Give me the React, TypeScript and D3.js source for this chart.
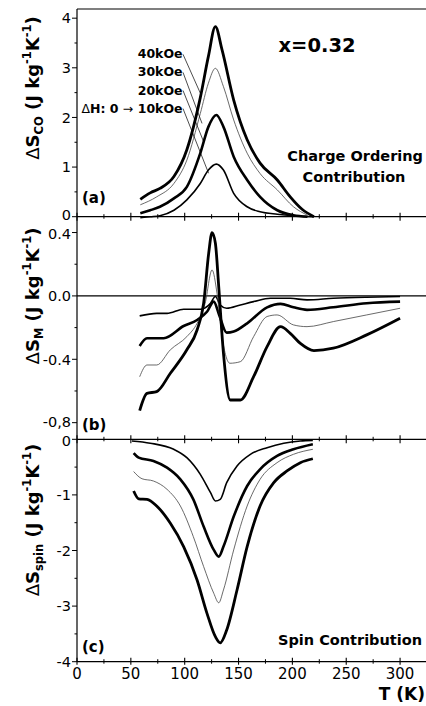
import * as d3 from "d3";

// entropy change vs temperature, x = 0.32
// each series: [T (K), value]
const co10: [number, number][] = [[58.8,-0.02],[68,0],[77,0.02],[90,0.13],[102,0.34],[114.5,0.67],[122,0.94],[129.4,1.06],[136,0.94],[145.5,0.47],[158,0.2],[170,0.1],[186,0.05],[201,0.02],[220,0]];
const co20: [number, number][] = [[58.8,0.07],[68,0.13],[77,0.2],[90,0.37],[102,0.6],[114.5,1.28],[122,1.81],[129.4,2.05],[136,1.81],[145.5,1.21],[158,0.74],[170,0.4],[186,0.13],[201,0.03],[214,0]];
const co30: [number, number][] = [[58.8,0.24],[74,0.4],[90,0.67],[102,1.14],[114.5,2.08],[122,2.69],[128.5,2.99],[136,2.62],[145.5,1.95],[158,1.28],[170,0.87],[186,0.54],[201,0.2],[214,0.03]];
const co40: [number, number][] = [[58.8,0.35],[68,0.48],[77,0.57],[90,0.81],[102,1.35],[114.5,2.4],[122,3.23],[128.5,3.83],[134.7,3.36],[145.5,2.35],[158,1.55],[170,1.08],[186,0.74],[198,0.4],[209,0.15],[220,0]];

const sm10: [number, number][] = [[58.2,-0.126],[74,-0.11],[83.6,-0.11],[99,-0.084],[114.5,-0.084],[124,-0.046],[128.5,-0.004],[133,-0.057],[139,-0.078],[151.7,-0.057],[164,-0.036],[179.6,-0.015],[198,-0.015],[213.6,-0.025],[238,-0.015],[269,-0.008],[300,-0.004]];
const sm20: [number, number][] = [[58.2,-0.316],[65,-0.267],[80.5,-0.267],[99,-0.19],[111.5,-0.152],[120.7,-0.1],[127,-0.036],[132,-0.12],[139,-0.232],[145.5,-0.225],[158,-0.173],[176.5,-0.072],[189,-0.05],[201,-0.072],[213.6,-0.088],[238,-0.072],[269,-0.046],[300,-0.036]];
const sm30: [number, number][] = [[58.2,-0.51],[65,-0.436],[74,-0.436],[86.7,-0.34],[102,-0.257],[111.5,-0.173],[119,-0.046],[125.4,0.164],[130,0.017],[134.7,-0.257],[142,-0.425],[151.7,-0.415],[164,-0.257],[176.5,-0.13],[185.8,-0.12],[201,-0.183],[213.6,-0.194],[238,-0.162],[269,-0.12],[300,-0.078]];
const sm40: [number, number][] = [[58.2,-0.724],[65,-0.615],[74,-0.604],[86.7,-0.488],[102,-0.34],[111.5,-0.215],[117.6,-0.046],[122.3,0.27],[125.4,0.4],[128.5,0.333],[131.6,0.059],[136,-0.362],[142.4,-0.657],[151.7,-0.657],[164,-0.51],[176.5,-0.32],[189,-0.194],[198,-0.236],[207.4,-0.3],[220,-0.345],[238,-0.33],[269,-0.246],[300,-0.141]];

const ss10: [number, number][] = [[51,-0.03],[68,-0.07],[89.8,-0.18],[102,-0.33],[114.5,-0.63],[124,-0.96],[128.5,-1.11],[133,-1.08],[139,-0.78],[148.6,-0.48],[161,-0.27],[176.5,-0.15],[192,-0.07],[207.4,-0.03],[219,-0.02]];
const ss20: [number, number][] = [[52.6,-0.25],[57.3,-0.33],[71,-0.39],[83.6,-0.51],[96,-0.72],[108,-1.08],[117.6,-1.57],[127,-1.99],[131.6,-2.11],[136,-1.93],[145.5,-1.39],[158,-0.84],[170,-0.54],[185.8,-0.3],[201,-0.18],[219,-0.09]];
const ss30: [number, number][] = [[52.6,-0.58],[60.4,-0.71],[71,-0.75],[83.6,-0.9],[96,-1.2],[108,-1.75],[117.6,-2.29],[127,-2.77],[131.6,-2.94],[136,-2.71],[145.5,-1.99],[158,-1.2],[170,-0.72],[185.8,-0.42],[201,-0.27],[219,-0.18]];
const ss40: [number, number][] = [[52.6,-0.93],[57.3,-1.07],[65,-1.08],[74,-1.2],[86.7,-1.51],[99,-1.93],[111.5,-2.53],[120.7,-3.13],[128.5,-3.55],[133,-3.66],[139,-3.43],[148.6,-2.71],[158,-1.93],[170,-1.2],[182.7,-0.78],[195,-0.57],[207.4,-0.42],[219,-0.35]];

const xTicks = [0, 50, 100, 150, 200, 250, 300];
const fieldLabels = ["40kOe", "30kOe", "20kOe", "10kOe"];
// leader line end points in (T, ΔS_CO)
const leaderEnds: [number, number][] = [[114.5, 2.49], [116.1, 1.88], [117.6, 1.51], [122.2, 0.875]];

const FONT = "DejaVu Sans, Verdana, sans-serif";
const W = 426;
const H = 706;

// stroke per field, 10 → 40 kOe
const STYLE = [
  { w: 1.6, c: "#000" },
  { w: 2.6, c: "#000" },
  { w: 0.8, c: "#444" },
  { w: 2.8, c: "#000" },
];

const x = d3.scaleLinear().domain([0, 325]).range([77, 427]);

const panels = [
  {
    y: d3.scaleLinear().domain([0, 4.185]).range([216.7, 9]),
    series: [co10, co20, co30, co40],
    major: [0, 1, 2, 3, 4],
    labels: ["0", "1", "2", "3", "4"],
    nudge: [-1.5, 0, 0, 0, 0],
    minor: [0.5, 1.5, 2.5, 3.5],
    sub: "CO",
    labelY: 88,
    tag: "(a)",
    tagY: 203,
  },
  {
    y: d3.scaleLinear().domain([-0.905, 0.5]).range([439.3, 216.7]),
    series: [sm10, sm20, sm30, sm40],
    major: [0.4, 0, -0.4, -0.8],
    labels: ["0.4", "0.0", "-0.4", "-0,8"],
    nudge: [1.5, 0, 0, -1],
    minor: [0.2, -0.2, -0.6],
    sub: "M",
    labelY: 296,
    tag: "(b)",
    tagY: 430,
  },
  {
    y: d3.scaleLinear().domain([-4, 0]).range([661.7, 439.3]),
    series: [ss10, ss20, ss30, ss40],
    major: [0, -1, -2, -3, -4],
    labels: ["0", "-1", "-2", "-3", "-4"],
    nudge: [1.5, 0, 0, 0, 0],
    minor: [-0.5, -1.5, -2.5, -3.5],
    sub: "spin",
    labelY: 520,
    tag: "(c)",
    tagY: 652,
  },
];

const YLabel = ({ cy, sub }: { cy: number; sub: string }) => (
  <text
    transform={`translate(39,${cy}) rotate(-90)`}
    textAnchor="middle"
    fontFamily={FONT}
    fontWeight="bold"
    fontSize={18}
  >
    <tspan fontWeight="normal">Δ</tspan>
    <tspan>S</tspan>
    <tspan fontSize={11.5} dy={4}>{sub}</tspan>
    <tspan dy={-4}> (J kg</tspan>
    <tspan fontSize={11.5} dy={-8}>-1</tspan>
    <tspan dy={8}>K</tspan>
    <tspan fontSize={11.5} dy={-8}>-1</tspan>
    <tspan dy={8}>)</tspan>
  </text>
);

export default function App() {
  const xMinor = d3.range(25, 326, 50);
  return (
    <svg width={W} height={H} style={{ position: "absolute", left: 0, top: 0, background: "#fff" }}>
      {panels.map((p, pi) => {
        const line = d3
          .line<[number, number]>()
          .x((d) => x(d[0]))
          .y((d) => p.y(d[1]))
          .curve(d3.curveMonotoneX);
        const [yBot, yTop] = p.y.range();
        const last = pi === panels.length - 1;
        return (
          <g key={pi}>
            {/* y ticks */}
            {p.major.map((v, i) => (
              <g key={"M" + i}>
                <line x1={72} x2={77} y1={p.y(v)} y2={p.y(v)} stroke="#000" strokeWidth={1} />
                <text x={71} y={p.y(v) + p.nudge[i]} dy="0.36em" textAnchor="end" fontFamily={FONT} fontSize={14.5}>
                  {p.labels[i]}
                </text>
              </g>
            ))}
            {p.minor.map((v, i) => (
              <line key={"m" + i} x1={74.5} x2={77} y1={p.y(v)} y2={p.y(v)} stroke="#000" strokeWidth={1} />
            ))}
            {/* bottom axis of panel */}
            <line x1={77} x2={W} y1={yBot} y2={yBot} stroke="#000" strokeWidth={1.2} />
            {xTicks.map((t) => (
              <line key={"xt" + t} x1={x(t)} x2={x(t)} y1={yBot - 4} y2={yBot + (last ? 3 : 4)} stroke="#000" strokeWidth={1.1} />
            ))}
            {xMinor.map((t) => (
              <line key={"xm" + t} x1={x(t)} x2={x(t)} y1={yBot - 2.5} y2={yBot + 2} stroke="#000" strokeWidth={1} />
            ))}
            {pi === 1 && <line x1={77} x2={W} y1={p.y(0)} y2={p.y(0)} stroke="#000" strokeWidth={1.2} />}
            {pi === 0 && <line x1={77} x2={W} y1={yTop} y2={yTop} stroke="#000" strokeWidth={1.2} />}
            {p.series.map((s, si) => (
              <path key={si} d={line(s) ?? ""} fill="none" stroke={STYLE[si].c} strokeWidth={STYLE[si].w} strokeLinejoin="round" />
            ))}
            <YLabel cy={p.labelY} sub={p.sub} />
            <text x={82} y={p.tagY} fontFamily={FONT} fontWeight="bold" fontSize={15}>
              {p.tag}
            </text>
          </g>
        );
      })}
      <line x1={77} x2={77} y1={9} y2={661.7} stroke="#000" strokeWidth={1.2} />

      {xTicks.map((t) => (
        <text key={t} x={x(t)} y={679} textAnchor="middle" fontFamily={FONT} fontSize={15}>
          {t}
        </text>
      ))}
      <text x={425} y={700} textAnchor="end" fontFamily={FONT} fontWeight="bold" fontSize={17}>
        T (K)
      </text>

      {/* panel (a) annotations */}
      <text x={317} y={52} textAnchor="middle" fontFamily={FONT} fontWeight="bold" fontSize={19.5}>
        x=0.32
      </text>
      <text x={423} y={161} textAnchor="end" fontFamily={FONT} fontWeight="bold" fontSize={14.5}>
        Charge Ordering
      </text>
      <text x={354} y={182} textAnchor="middle" fontFamily={FONT} fontWeight="bold" fontSize={14.5}>
        Contribution
      </text>
      {fieldLabels.map((lab, i) => {
        const by = 58.3 + i * 18.1;
        const [et, ev] = leaderEnds[i];
        return (
          <g key={lab}>
            <text x={182.5} y={by} textAnchor="end" fontFamily={FONT} fontWeight="bold" fontSize={12.5}>
              {i === 3 ? (
                <>
                  <tspan fontWeight="normal">Δ</tspan>H: 0 <tspan fontWeight="normal">→</tspan> {lab}
                </>
              ) : (
                lab
              )}
            </text>
            <line x1={183} y1={by - 4} x2={x(et)} y2={panels[0].y(ev)} stroke="#000" strokeWidth={0.7} />
          </g>
        );
      })}

      {/* panel (c) */}
      <text x={422} y={645} textAnchor="end" fontFamily={FONT} fontWeight="bold" fontSize={14.5}>
        Spin Contribution
      </text>
    </svg>
  );
}
